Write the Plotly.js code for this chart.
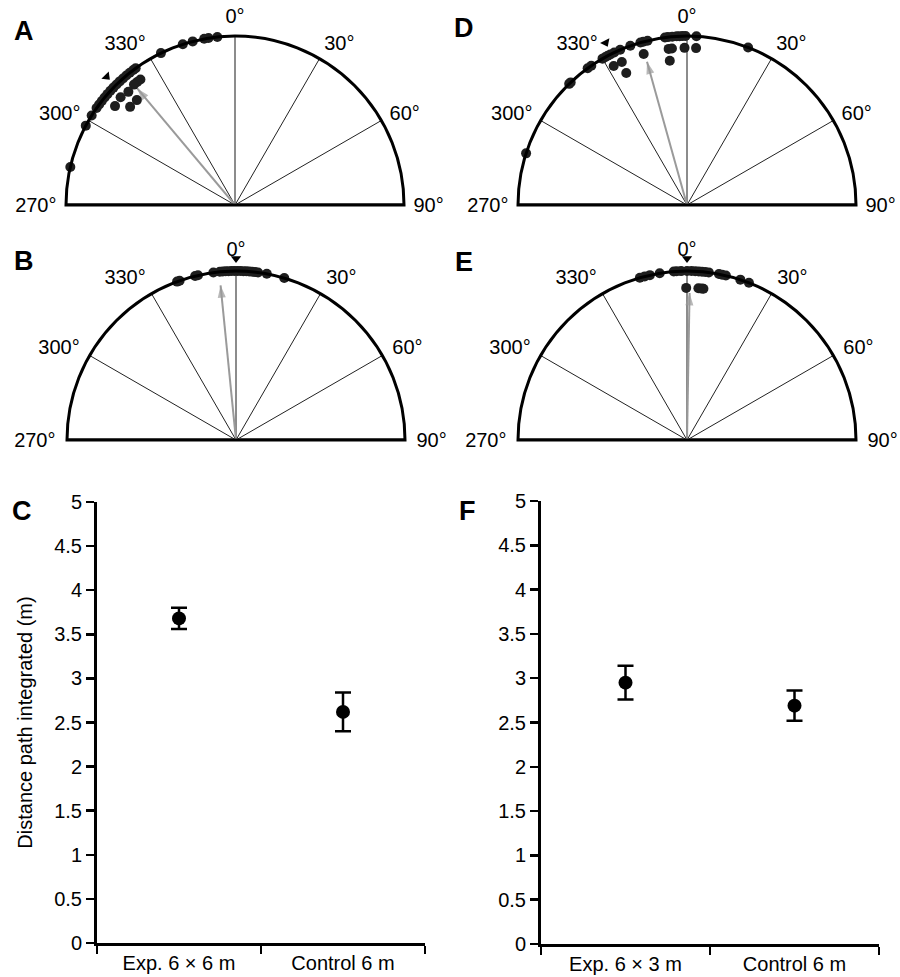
<!DOCTYPE html>
<html><head><meta charset="utf-8">
<script src="https://cdn.plot.ly/plotly-3.0.1.min.js"></script>
<style>html,body{margin:0;padding:0;background:#fff}</style>
</head><body><div id="chart" style="width:900px;height:977px"></div>
<script>
// ---------- Data ----------
// Panel A (6 x 6 m experimental); angles in degrees clockwise from 0°
const A_rimTheta = [283, 298, 302, 305, 306.5, 308, 309.5, 311, 312.5, 314, 315.5, 317, 318.5, 320, 321.5, 323, 324, 334, 342, 345.5, 349.5, 351, 354];
const A_innerR = [0.93, 0.93, 0.93, 0.92, 0.93, 0.92, 0.85, 0.85];
const A_innerTheta = [323, 321.5, 320, 316.7, 313.3, 309.5, 316.9, 313.1];
const A_meanR = 0.9, A_meanTheta = 320, A_cueTheta = 315;
// Panel B (control 6 m)
const B_rimTheta = [339.6, 340.5, 346, 347, 352.3, 354.5, 355.5, 356.5, 357.5, 358.5, 359.5, 0.5, 1.5, 2.5, 3.5, 4.5, 5.5, 6.5, 7.5, 10.5, 16.6];
const B_innerR = [];
const B_innerTheta = [];
const B_meanR = 0.92, B_meanTheta = 354.3, B_cueTheta = 0;
// Panel D (6 x 3 m experimental)
const D_rimTheta = [287.8, 315.8, 316.5, 324, 325.5, 330, 331, 332, 333, 334.5, 336.7, 340.4, 344, 345, 346.5, 352.5, 353.5, 355, 356.5, 357.5, 358.5, 359.5, 3.2, 21.2];
const D_innerR = [0.93, 0.93, 0.93, 0.93, 0.86, 0.93, 0.93, 0.93, 0.86];
const D_innerTheta = [3.3, 359.1, 353.3, 354.5, 353.2, 344, 335.5, 332.2, 335.3];
const D_meanR = 0.88, D_meanTheta = 344.4, D_cueTheta = 333.4;
// Panel E (control 6 m)
const E_rimTheta = [343.8, 345.5, 347.3, 350.7, 355.5, 356.5, 358, 0, 1.5, 2.8, 4, 5.1, 6.2, 7.4, 10.9, 12, 13.3, 18.4, 21.5];
const E_innerR = [0.9, 0.9, 0.9, 0.9];
const E_innerTheta = [359.7, 4.3, 5.5, 6.2];
const E_meanR = 0.87, E_meanTheta = 1, E_cueTheta = 0;

const angTickVals = [-90, -60, -30, 0, 30, 60, 90];
const angTickText = ['270°', '300°', '330°', '0°', '30°', '60°', '90°'];

// Panel C
const C_categories = ['Exp. 6 \u00d7 6 m', 'Control 6 m'];
const C_means = [3.68, 2.62];
const C_errs = [0.12, 0.22];
// Panel F
const F_categories = ['Exp. 6 \u00d7 3 m', 'Control 6 m'];
const F_means = [2.95, 2.69];
const F_errs = [0.19, 0.17];

const yAxisTitle = 'Distance path integrated (m)';
const panelLetters = ['A', 'B', 'C', 'D', 'E', 'F'];

// ---------- Build ----------
const FONT = 'Liberation Sans, Arial, Helvetica, sans-serif';
const DOT = '#1e1e1e';
const traces = [];
const toSigned = t => (t > 180 ? t - 360 : t);

function addPolarPanel(sub, rimTheta, innerR, innerTheta, meanR, meanTheta, cueTheta) {
  const rim = rimTheta.map(toSigned), inner = innerTheta.map(toSigned);
  const mt = toSigned(meanTheta), ct = toSigned(cueTheta);
  // base line (diameter) with small gap at centre
  traces.push({type: 'scatterpolar', subplot: sub, mode: 'lines',
    r: [1, 0.02, null, 0.02, 1], theta: [-90, -90, null, 90, 90],
    line: {color: '#000', width: 3}, hoverinfo: 'skip', connectgaps: false});
  // 0 degree reference line
  traces.push({type: 'scatterpolar', subplot: sub, mode: 'lines',
    r: [0, 1], theta: [0, 0], line: {color: '#8c8c8c', width: 2}, hoverinfo: 'skip'});
  // mean vector arrow
  traces.push({type: 'scatterpolar', subplot: sub, mode: 'lines+markers',
    r: [0, meanR], theta: [mt, mt],
    line: {color: '#9a9a9a', width: 2},
    marker: {symbol: ['circle', 'arrow'], size: [0, 13], angle: [0, mt], angleref: 'up', color: '#9a9a9a', line: {width: 0}},
    cliponaxis: false, hoverinfo: 'skip'});
  // rim dots
  traces.push({type: 'scatterpolar', subplot: sub, mode: 'markers',
    r: rim.map(() => 1), theta: rim,
    marker: {size: 10, color: DOT}, cliponaxis: false});
  // inner dots
  if (innerR.length) traces.push({type: 'scatterpolar', subplot: sub, mode: 'markers',
    r: innerR, theta: inner, marker: {size: 10, color: DOT}, cliponaxis: false});
  // cue arrowhead just outside the rim, pointing to centre
  traces.push({type: 'scatterpolar', subplot: sub, mode: 'markers',
    r: [1], theta: [ct],
    marker: {symbol: 'triangle-up', size: 9, angle: [ct + 180], angleref: 'up', standoff: 12.5, color: '#000', line: {width: 0}},
    cliponaxis: false});
}
addPolarPanel('polar', A_rimTheta, A_innerR, A_innerTheta, A_meanR, A_meanTheta, A_cueTheta);
addPolarPanel('polar2', B_rimTheta, B_innerR, B_innerTheta, B_meanR, B_meanTheta, B_cueTheta);
addPolarPanel('polar3', D_rimTheta, D_innerR, D_innerTheta, D_meanR, D_meanTheta, D_cueTheta);
addPolarPanel('polar4', E_rimTheta, E_innerR, E_innerTheta, E_meanR, E_meanTheta, E_cueTheta);

function addErrPanel(xa, ya, cats, means, errs) {
  traces.push({type: 'scatter', mode: 'markers', xaxis: xa, yaxis: ya,
    x: cats, y: means,
    error_y: {type: 'data', array: errs, visible: true, color: '#000', thickness: 2.5, width: 8},
    marker: {size: 14, color: '#000'}, cliponaxis: false});
}
addErrPanel('x', 'y', C_categories, C_means, C_errs);
addErrPanel('x2', 'y2', F_categories, F_means, F_errs);

function polarLayout(xd, yd, labelPad) {
  const ang = {rotation: 90, direction: 'clockwise', tickmode: 'array',
      tickvals: angTickVals, ticktext: angTickText, ticks: '',
      showline: true, linecolor: '#000', linewidth: 3,
      showgrid: true, gridcolor: '#222', gridwidth: 1,
      tickfont: {family: FONT, size: 20, color: '#000'}};
  if (labelPad) Object.assign(ang, {ticks: 'outside', ticklen: labelPad, tickcolor: 'rgba(0,0,0,0)'});
  return {
    domain: {x: xd, y: yd}, sector: [0, 180], bgcolor: 'rgba(0,0,0,0)',
    angularaxis: ang,
    radialaxis: {range: [0, 1], visible: false, showgrid: false, showline: false, showticklabels: false}
  };
}
const W = 900, H = 977;
const px = v => v / W, py = v => 1 - v / H;

function xAxis(domain) {
  return {domain: domain, type: 'category', range: [-0.5, 1.5], tickson: 'boundaries',
    showline: true, linecolor: '#000', linewidth: 3, ticks: 'outside', ticklen: 8, tickwidth: 2.5, tickcolor: '#000',
    showgrid: false, zeroline: false, fixedrange: true,
    tickfont: {family: FONT, size: 20, color: '#000'}};
}
function yAxis(domain, anchor, title) {
  const a = {domain: domain, anchor: anchor, range: [0, 5], dtick: 0.5, tick0: 0,
    showline: true, linecolor: '#000', linewidth: 3, ticks: 'outside', ticklen: 8, tickwidth: 2.5, tickcolor: '#000',
    showgrid: false, zeroline: false, fixedrange: true,
    tickfont: {family: FONT, size: 20, color: '#000'}};
  if (title) a.title = {text: title, font: {family: FONT, size: 20, color: '#000'}, standoff: 17};
  return a;
}

const letterPos = [[12, 31], [12, 261], [10, 511], [452, 28], [453, 262], [457, 511]];
const annotations = panelLetters.map((t, i) => ({
  text: '<b>' + t + '</b>', xref: 'paper', yref: 'paper', x: px(letterPos[i][0]), y: py(letterPos[i][1]),
  xanchor: 'left', yanchor: 'middle', showarrow: false,
  font: {family: FONT, size: 27, color: '#000'}
}));

const layout = {
  width: W, height: H, margin: {l: 0, r: 0, t: 0, b: 0},
  paper_bgcolor: '#fff', plot_bgcolor: '#fff', showlegend: false,
  font: {family: FONT, color: '#000'},
  polar: polarLayout([px(66), px(404)], [py(205), py(36)], 4),
  polar2: polarLayout([px(67), px(405)], [py(440), py(271)], 6),
  polar3: polarLayout([px(518), px(856)], [py(205), py(36)], 4),
  polar4: polarLayout([px(518), px(856)], [py(440), py(271)], 6),
  xaxis: Object.assign(xAxis([px(97), px(425)]), {anchor: 'y'}),
  yaxis: yAxis([py(943), py(502)], 'x', yAxisTitle),
  xaxis2: Object.assign(xAxis([px(541), px(879)]), {anchor: 'y2'}),
  yaxis2: yAxis([py(944), py(501)], 'x2', null),
  annotations: annotations
};

Plotly.newPlot('chart', traces, layout, {displayModeBar: false, staticPlot: true});
</script>
</body></html>
